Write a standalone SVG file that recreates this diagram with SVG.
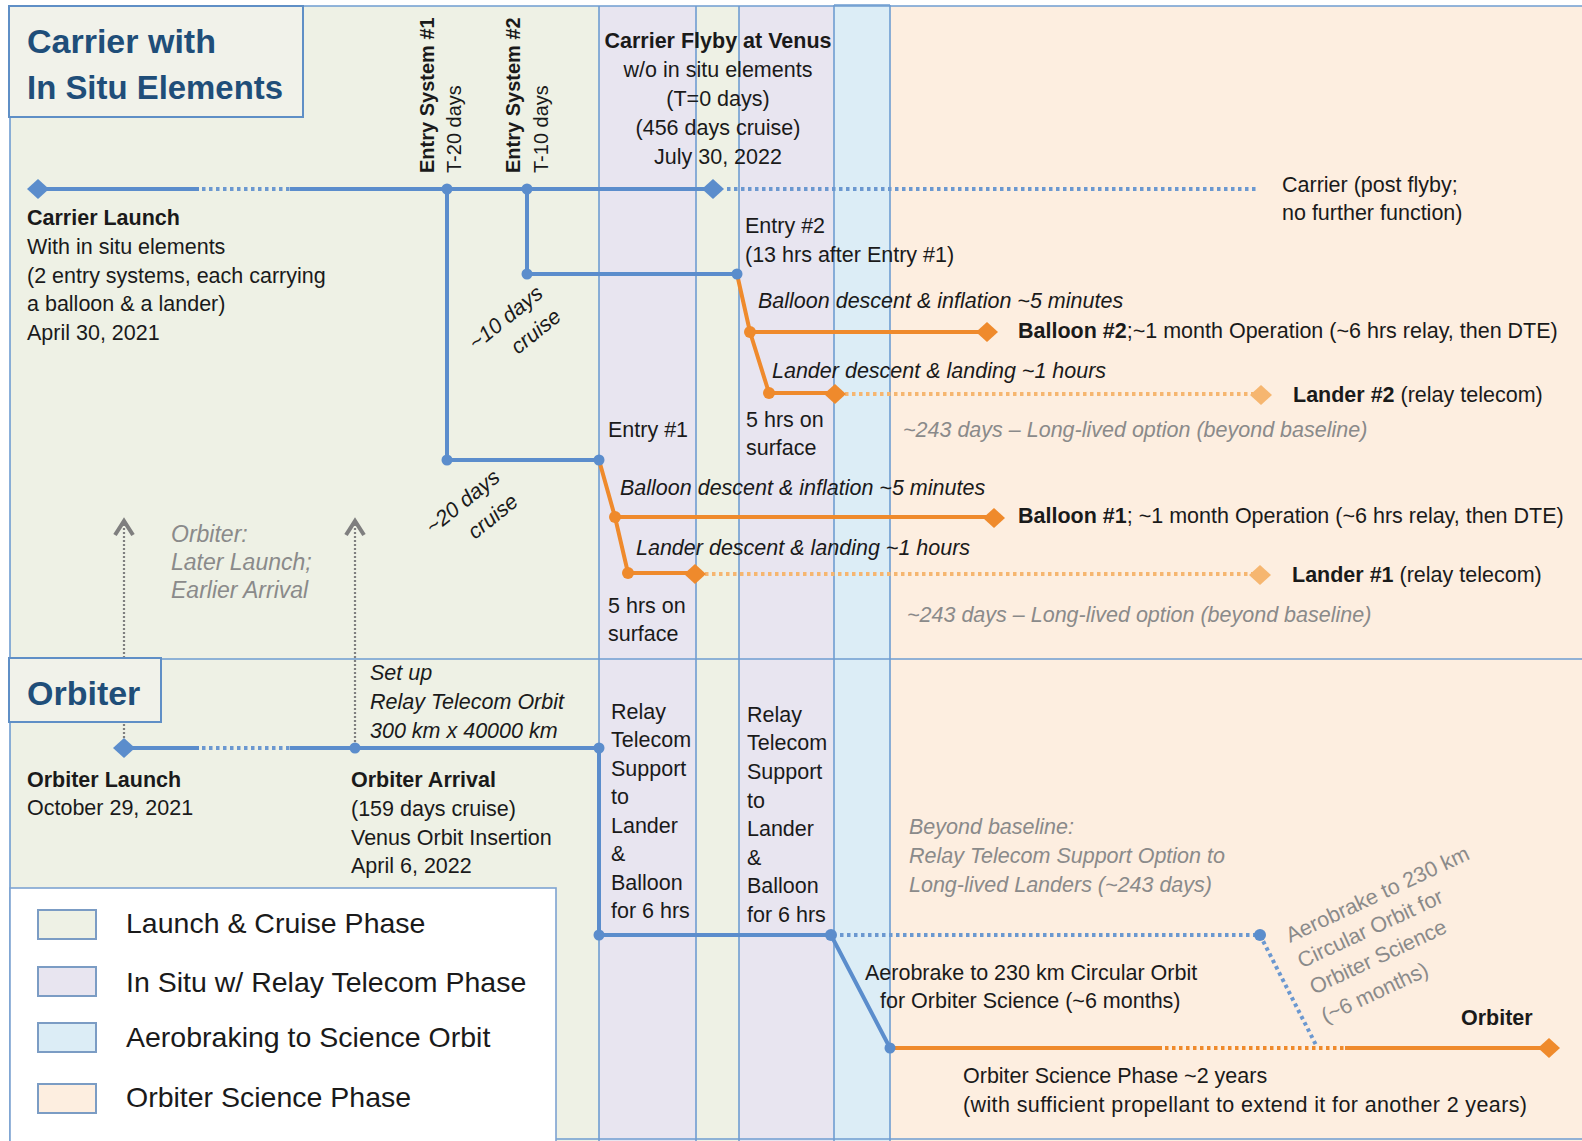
<svg xmlns="http://www.w3.org/2000/svg" xmlns:xlink="http://www.w3.org/1999/xlink" width="1582" height="1141" viewBox="0 0 1582 1141">
<style>
.t{font-family:"Liberation Sans",Arial,sans-serif;font-size:21.5px;fill:#1a1a1a}
.b{font-weight:bold}
.i{font-style:italic}
.g{fill:#8a8a8a}
.ttl{font-family:"Liberation Sans",Arial,sans-serif;font-size:34px;font-weight:bold;fill:#1f4e79}
.lg{font-family:"Liberation Sans",Arial,sans-serif;font-size:28.5px;fill:#1a1a1a}
.frame{stroke:#6f9dd1;stroke-width:1.6;fill:none}
.bl{stroke:#5b8dcc;stroke-width:4;fill:none}
.bd{stroke:#6b98d0;stroke-width:4;fill:none;stroke-dasharray:3.5 3.5}
.or{stroke:#ef8a2c;stroke-width:4;fill:none}
.od{stroke:#ef8a2c;stroke-width:4;fill:none;stroke-dasharray:3.5 3.5}
.ol{stroke:#f6b670;stroke-width:4;fill:none;stroke-dasharray:3.5 3.5}
.gd{stroke:#7f7f7f;stroke-width:2.2;fill:none;stroke-dasharray:2 2}
.ga{stroke:#7f7f7f;stroke-width:4;fill:none;stroke-linejoin:miter}
.nb{fill:#5b8dcc}
.no{fill:#ef8a2c}
.nl{fill:#f6b670}
.sw{stroke:#7b9cc4;stroke-width:2}
</style>
<defs>
<path id="dm" d="M-11,0 L0,-10 L11,0 L0,10Z"/>
</defs>

<g id="background">
<rect x="0" y="0" width="1582" height="1141" fill="#ffffff"/>
<rect x="10" y="6" width="589" height="1135" fill="#eef1e5"/>
<rect x="599" y="6" width="97" height="1135" fill="#e8e5f0"/>
<rect x="696" y="6" width="43" height="1135" fill="#eef1e5"/>
<rect x="739" y="6" width="95" height="1135" fill="#e8e5f0"/>
<rect x="834" y="5" width="56" height="1136" fill="#dcedf6"/>
<rect x="890" y="6" width="692" height="1135" fill="#fdeee0"/>
<path class="frame" d="M10,6 H1582 M10,6 V1141 M10,659 H1582 M10,1139 H1582"/>
<path class="frame" d="M599,6 V1141 M696,6 V1141 M739,6 V1141 M834,5 V1141 M890,5 V1141 M834,5 H890"/>
</g>

<g id="connectors">
<path class="bl" d="M38,189 H199 M290,189 H713"/>
<path class="bd" d="M202,189 H290"/>
<path class="bd" d="M727,189 H1256"/>
<path class="bl" d="M447,189 V460 H599"/>
<path class="bl" d="M527,189 V274 H737"/>
<path class="or" d="M737,274 L750,332 L769,393"/>
<path class="or" d="M750,332 H987"/>
<path class="or" d="M769,393 H835"/>
<path class="ol" d="M845,394 H1255"/>
<path class="or" d="M599,460 L615,517 L628,573"/>
<path class="or" d="M615,517 H994"/>
<path class="or" d="M628,573 H695"/>
<path class="ol" d="M705,574 H1254"/>
<path class="gd" d="M124,742 V524"/>
<path class="gd" d="M355,742 V524"/>
<path class="ga" d="M115,535 L124,521 L133,535"/>
<path class="ga" d="M346,535 L355,521 L364,535"/>
<path class="bl" d="M124,748 H199 M290,748 H599 V935 H831 L890,1048"/>
<path class="bd" d="M202,748 H290"/>
<path class="bd" d="M840,935 H1260 L1317,1047"/>
<path class="or" d="M890,1048 H1162 M1345,1048 H1549"/>
<path class="od" d="M1165,1048 H1345"/>
</g>

<g id="markers">
<use xlink:href="#dm" class="nb" transform="translate(38,189)"/>
<use xlink:href="#dm" class="nb" transform="translate(713,189)"/>
<circle class="nb" cx="447" cy="189" r="5.5"/>
<circle class="nb" cx="527" cy="189" r="5.5"/>
<circle class="nb" cx="527" cy="274" r="5.5"/>
<circle class="nb" cx="737" cy="274" r="5.5"/>
<circle class="nb" cx="447" cy="460" r="5.5"/>
<circle class="nb" cx="599" cy="460" r="5.5"/>
<circle class="no" cx="750" cy="332" r="6"/>
<circle class="no" cx="769" cy="393" r="6"/>
<use xlink:href="#dm" class="no" transform="translate(987,332)"/>
<use xlink:href="#dm" class="no" transform="translate(835,394)"/>
<use xlink:href="#dm" class="nl" transform="translate(1261,395)"/>
<circle class="no" cx="615" cy="517" r="6"/>
<circle class="no" cx="628" cy="573" r="6"/>
<use xlink:href="#dm" class="no" transform="translate(994,518)"/>
<use xlink:href="#dm" class="no" transform="translate(695,574)"/>
<use xlink:href="#dm" class="nl" transform="translate(1260,575)"/>
<use xlink:href="#dm" class="nb" transform="translate(124,748)"/>
<circle class="nb" cx="355" cy="748" r="5.5"/>
<circle class="nb" cx="599" cy="748" r="5.5"/>
<circle class="nb" cx="599" cy="935" r="5.5"/>
<circle class="nb" cx="831" cy="935" r="6"/>
<circle class="nb" cx="890" cy="1048" r="5.5"/>
<circle class="nb" cx="1260" cy="935" r="6"/>
<use xlink:href="#dm" class="no" transform="translate(1549,1048)"/>
</g>

<g id="title-carrier">
<rect x="9" y="6" width="294" height="111" fill="#f1f2ea" stroke="#5f8fc6" stroke-width="2"/>
<text class="ttl" x="27" y="53">Carrier with</text>
<text class="ttl" x="27" y="99" textLength="256" lengthAdjust="spacingAndGlyphs">In Situ Elements</text>
</g>

<g id="title-orbiter">
<rect x="9" y="658" width="152" height="64" fill="#f1f2ea" stroke="#5f8fc6" stroke-width="2"/>
<text class="ttl" x="27" y="705">Orbiter</text>
</g>

<g id="entry-system-1">
<text class="t b" style="font-size:20px" transform="translate(434,173) rotate(-90)">Entry System #1</text>
<text class="t" style="font-size:20px" transform="translate(461,173) rotate(-90)">T-20 days</text>
</g>
<g id="entry-system-2">
<text class="t b" style="font-size:20px" transform="translate(520,173) rotate(-90)">Entry System #2</text>
<text class="t" style="font-size:20px" transform="translate(548,173) rotate(-90)">T-10 days</text>
</g>

<g id="carrier-launch">
<text class="t b" x="27" y="225">Carrier Launch</text>
<text class="t" x="27" y="254">With in situ elements</text>
<text class="t" x="27" y="283">(2 entry systems, each carrying</text>
<text class="t" x="27" y="311">a balloon &amp; a lander)</text>
<text class="t" x="27" y="340">April 30, 2021</text>
</g>

<g id="carrier-flyby" text-anchor="middle">
<text class="t b" x="718" y="48">Carrier Flyby at Venus</text>
<text class="t" x="718" y="77">w/o in situ elements</text>
<text class="t" x="718" y="106">(T=0 days)</text>
<text class="t" x="718" y="135">(456 days cruise)</text>
<text class="t" x="718" y="164">July 30, 2022</text>
</g>

<g id="carrier-post">
<text class="t" x="1282" y="192">Carrier (post flyby;</text>
<text class="t" x="1282" y="220">no further function)</text>
</g>

<g id="cruise-labels">
<text class="t i" transform="translate(476,351) rotate(-39)">~10 days</text>
<text class="t i" transform="translate(518,355) rotate(-39)">cruise</text>
<text class="t i" transform="translate(433,535) rotate(-39)">~20 days</text>
<text class="t i" transform="translate(475,540) rotate(-39)">cruise</text>
</g>

<g id="entry-2">
<text class="t" x="745" y="233">Entry #2</text>
<text class="t" x="745" y="262">(13 hrs after Entry #1)</text>
<text class="t i" x="758" y="308">Balloon descent &amp; inflation ~5 minutes</text>
<text class="t i" x="772" y="378">Lander descent &amp; landing ~1 hours</text>
<text class="t" x="746" y="427">5 hrs on</text>
<text class="t" x="746" y="455">surface</text>
</g>
<g id="balloon-2">
<text class="t" x="1018" y="338"><tspan class="b">Balloon #2</tspan>;~1 month Operation (~6 hrs relay, then DTE)</text>
</g>
<g id="lander-2">
<text class="t" x="1293" y="402"><tspan class="b">Lander #2</tspan> (relay telecom)</text>
<text class="t i g" x="903" y="437">~243 days – Long-lived option (beyond baseline)</text>
</g>

<g id="entry-1">
<text class="t" x="608" y="437">Entry #1</text>
<text class="t i" x="620" y="495">Balloon descent &amp; inflation ~5 minutes</text>
<text class="t i" x="636" y="555">Lander descent &amp; landing ~1 hours</text>
<text class="t" x="608" y="613">5 hrs on</text>
<text class="t" x="608" y="641">surface</text>
</g>
<g id="balloon-1">
<text class="t" x="1018" y="523"><tspan class="b">Balloon #1</tspan>; ~1 month Operation (~6 hrs relay, then DTE)</text>
</g>
<g id="lander-1">
<text class="t" x="1292" y="582"><tspan class="b">Lander #1</tspan> (relay telecom)</text>
<text class="t i g" x="907" y="622">~243 days – Long-lived option (beyond baseline)</text>
</g>

<g id="orbiter-note">
<text class="t i g" style="font-size:23px" x="171" y="542">Orbiter:</text>
<text class="t i g" style="font-size:23px" x="171" y="570">Later Launch;</text>
<text class="t i g" style="font-size:23px" x="171" y="598">Earlier Arrival</text>
</g>

<g id="orbiter-launch">
<text class="t b" x="27" y="787">Orbiter Launch</text>
<text class="t" x="27" y="815">October 29, 2021</text>
</g>

<g id="orbiter-arrival">
<text class="t i" x="370" y="680">Set up</text>
<text class="t i" x="370" y="709">Relay Telecom Orbit</text>
<text class="t i" x="370" y="738">300 km x 40000 km</text>
<text class="t b" x="351" y="787">Orbiter Arrival</text>
<text class="t" x="351" y="816">(159 days cruise)</text>
<text class="t" x="351" y="845">Venus Orbit Insertion</text>
<text class="t" x="351" y="873">April 6, 2022</text>
</g>

<g id="relay-1">
<text class="t" x="611" y="719">Relay</text>
<text class="t" x="611" y="747">Telecom</text>
<text class="t" x="611" y="776">Support</text>
<text class="t" x="611" y="804">to</text>
<text class="t" x="611" y="833">Lander</text>
<text class="t" x="611" y="861">&amp;</text>
<text class="t" x="611" y="890">Balloon</text>
<text class="t" x="611" y="918">for 6 hrs</text>
</g>
<g id="relay-2">
<text class="t" x="747" y="722">Relay</text>
<text class="t" x="747" y="750">Telecom</text>
<text class="t" x="747" y="779">Support</text>
<text class="t" x="747" y="808">to</text>
<text class="t" x="747" y="836">Lander</text>
<text class="t" x="747" y="865">&amp;</text>
<text class="t" x="747" y="893">Balloon</text>
<text class="t" x="747" y="922">for 6 hrs</text>
</g>

<g id="beyond-baseline">
<text class="t i g" x="909" y="834">Beyond baseline:</text>
<text class="t i g" x="909" y="863">Relay Telecom Support Option to</text>
<text class="t i g" x="909" y="892">Long-lived Landers (~243 days)</text>
</g>

<g id="aerobrake">
<text class="t" x="865" y="980">Aerobrake to 230 km Circular Orbit</text>
<text class="t" x="880" y="1008">for Orbiter Science  (~6 months)</text>
</g>

<g id="aerobrake-option" transform="translate(1290,943) rotate(-25)">
<text class="t g" x="0" y="0">Aerobrake to 230 km</text>
<text class="t g" x="0" y="28">Circular Orbit for</text>
<text class="t g" x="0" y="57">Orbiter Science</text>
<text class="t g" x="-2" y="88">(~6 months)</text>
</g>

<g id="orbiter-science">
<text class="t b" x="1461" y="1025">Orbiter</text>
<text class="t" x="963" y="1083">Orbiter Science Phase ~2 years</text>
<text class="t" x="963" y="1112" textLength="564" lengthAdjust="spacing">(with sufficient propellant to extend it for another 2 years)</text>
</g>

<g id="legend">
<rect x="10" y="888" width="546" height="260" fill="#ffffff" stroke="#7ea3d1" stroke-width="1.6"/>
<rect class="sw" x="38" y="910" width="58" height="29" fill="#eef1e5"/>
<rect class="sw" x="38" y="967" width="58" height="29" fill="#e8e5f0"/>
<rect class="sw" x="38" y="1023" width="58" height="29" fill="#dcedf6"/>
<rect class="sw" x="38" y="1084" width="58" height="29" fill="#fdeee0"/>
<text class="lg" x="126" y="933">Launch &amp; Cruise Phase</text>
<text class="lg" x="126" y="992">In Situ w/ Relay Telecom Phase</text>
<text class="lg" x="126" y="1047">Aerobraking to Science Orbit</text>
<text class="lg" x="126" y="1107">Orbiter Science Phase</text>
</g>
</svg>
